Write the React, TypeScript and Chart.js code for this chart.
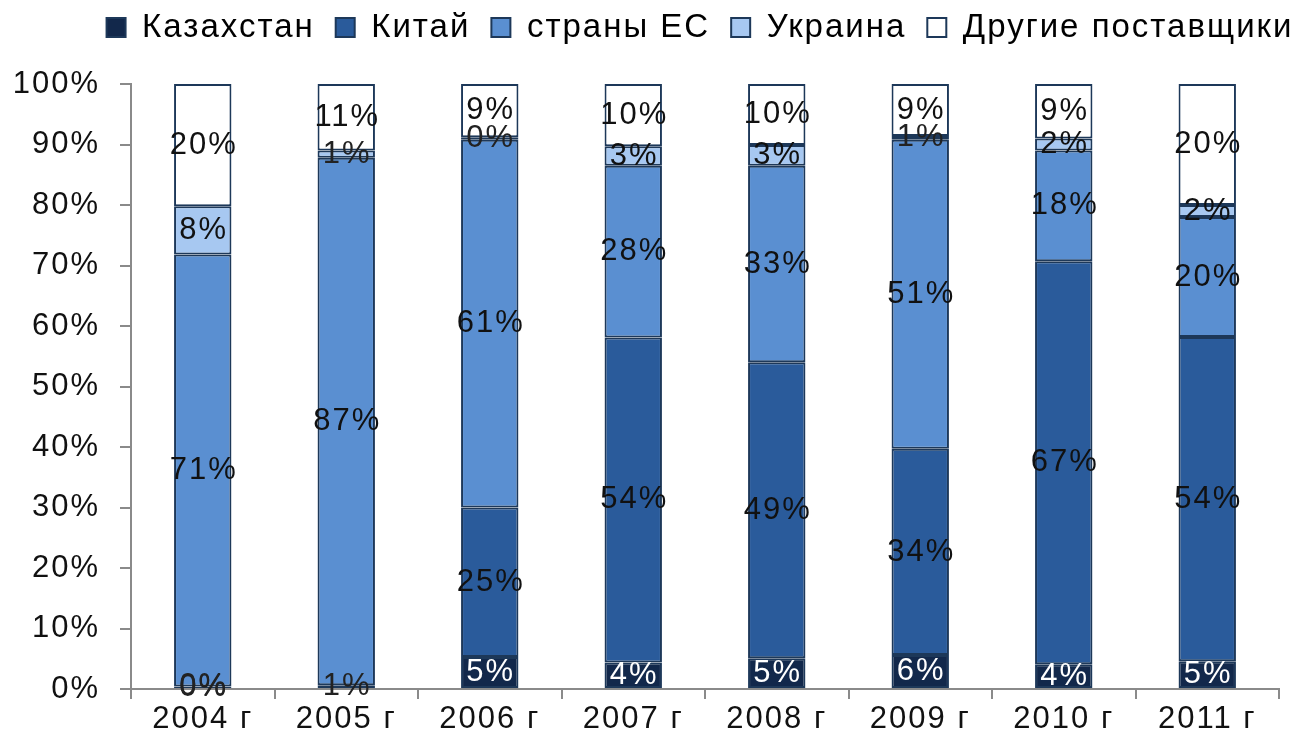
import React, { useEffect, useRef } from "react";
import { Chart, registerables } from "chart.js";

Chart.register(...registerables);

const categories = ["2004 г", "2005 г", "2006 г", "2007 г", "2008 г", "2009 г", "2010 г", "2011 г"];
const seriesNames = ["Казахстан", "Китай", "страны ЕС", "Украина", "Другие поставщики"];
const kazakhstan = [0.4, 0.6, 5.3, 4.4, 5.1, 5.6, 4.1, 4.6];
const china = [0, null, 24.7, 53.7, 48.9, 34.1, 66.6, 53.6];
const eu = [71.4, 87.2, 60.8, 28.4, 32.5, 51.1, 18.3, 19.8];
const ukraine = [8.0, 1.2, 0.4, 3.2, 3.4, 0.6, 2.0, 2.0];
const others = [20.2, 11.0, 8.8, 10.3, 10.1, 8.6, 9.0, 20.0];
const yTicks = [0, 10, 20, 30, 40, 50, 60, 70, 80, 90, 100];

const colors = ["#12284b", "#2a5b9b", "#5a8fd1", "#a7c8f1", "#ffffff"];
const labelColors = ["#ffffff", "#111111", "#111111", "#111111", "#111111"];
const FONT = "'Liberation Sans', Arial, sans-serif";
const SIZE = 31;
const LEGEND_SIZE = 33;
const SPACING = "2px";

export default function App() {
  const ref = useRef<HTMLCanvasElement | null>(null);
  useEffect(() => {
    document.body.style.margin = "0";
    const values = [kazakhstan, china, eu, ukraine, others];
    const setSpacing = (chart: any) => {
      (chart.ctx as any).letterSpacing = SPACING;
    };
    const spacingPlugin = {
      id: "spacing",
      beforeInit: setSpacing,
      beforeUpdate: setSpacing,
      beforeLayout: setSpacing,
      beforeDraw: setSpacing,
    };
    const labelPlugin = {
      id: "segLabels",
      afterDatasetsDraw(chart: any) {
        const ctx = chart.ctx;
        ctx.save();
        ctx.letterSpacing = SPACING;
        ctx.font = `${SIZE}px ${FONT}`;
        ctx.textAlign = "center";
        ctx.textBaseline = "middle";
        chart.data.datasets.forEach((ds: any, di: number) => {
          const meta = chart.getDatasetMeta(di);
          meta.data.forEach((bar: any, i: number) => {
            const v = ds.data[i];
            if (v === null || v === undefined) return;
            const y = (bar.y + bar.base) / 2;
            ctx.fillStyle = v < 2 ? "#222222" : labelColors[di];
            ctx.fillText(Math.round(v) + "%", bar.x + 1, y);
          });
        });
        ctx.restore();
      },
    };
    const legendFit = {
      id: "legendFit",
      beforeInit(chart: any) {
        const lg = chart.legend;
        if (!lg) return;
        const orig = lg.fit;
        lg.fit = function () {
          const mw = this.maxWidth;
          this.maxWidth = 3000;
          orig.call(this);
          this.maxWidth = mw;
          this.width = mw;
          this.height = 94;
        };
      },
      afterLayout(chart: any) {
        const lg = chart.legend;
        if (!lg) return;
        lg.left = 0;
        lg.right = 1400;
        lg.width = 1400;
      },
    };
    const chart = new Chart(ref.current!, {
      type: "bar",
      data: {
        labels: categories,
        datasets: values.map((d, i) => ({
          label: seriesNames[i],
          data: d,
          backgroundColor: colors[i],
          borderColor: "#1d3859",
          borderWidth: 2,
          borderSkipped: false,
          barPercentage: 0.4,
          categoryPercentage: 1,
        })),
      },
      options: {
        animation: false,
        responsive: false,
        layout: { padding: { left: 0, right: 24, top: -10, bottom: 0 } },
        plugins: {
          tooltip: { enabled: false },
          legend: {
            position: "top",
            labels: {
              font: { family: FONT, size: LEGEND_SIZE },
              color: "#111111",
              boxWidth: 19,
              boxHeight: 19,
              padding: 21,
              generateLabels(chart: any) {
                return chart.data.datasets.map((ds: any, i: number) => ({
                  text: ds.label,
                  fillStyle: colors[i],
                  strokeStyle: "#1d3859",
                  lineWidth: 2,
                  datasetIndex: i,
                  hidden: false,
                }));
              },
            },
          },
        },
        scales: {
          x: {
            stacked: true,
            grid: { display: true, drawOnChartArea: false, offset: true, tickLength: 10, color: "#8a8a8a", lineWidth: 2 },
            border: { color: "#8a8a8a", width: 2 },
            ticks: { font: { family: FONT, size: SIZE }, color: "#111111", padding: 2 },
            afterFit(scale: any) {
              scale.height = 56;
            },
          },
          y: {
            stacked: true,
            min: 0,
            max: 100,
            afterBuildTicks(scale: any) {
              scale.ticks = yTicks.map((v) => ({ value: v }));
            },
            grid: { display: true, drawOnChartArea: false, tickLength: 11, color: "#8a8a8a", lineWidth: 2 },
            border: { color: "#8a8a8a", width: 2 },
            ticks: {
              font: { family: FONT, size: SIZE },
              color: "#111111",
              padding: 20,
              callback: (v: any) => v + "%",
            },
            afterFit(scale: any) {
              scale.width = 131;
            },
          },
        },
      },
      plugins: [spacingPlugin, labelPlugin, legendFit],
    });
    return () => chart.destroy();
  }, []);
  return (
    <div style={{ width: 1303, height: 745 }}>
      <canvas ref={ref} width={1303} height={745} style={{ display: "block" }} />
    </div>
  );
}
